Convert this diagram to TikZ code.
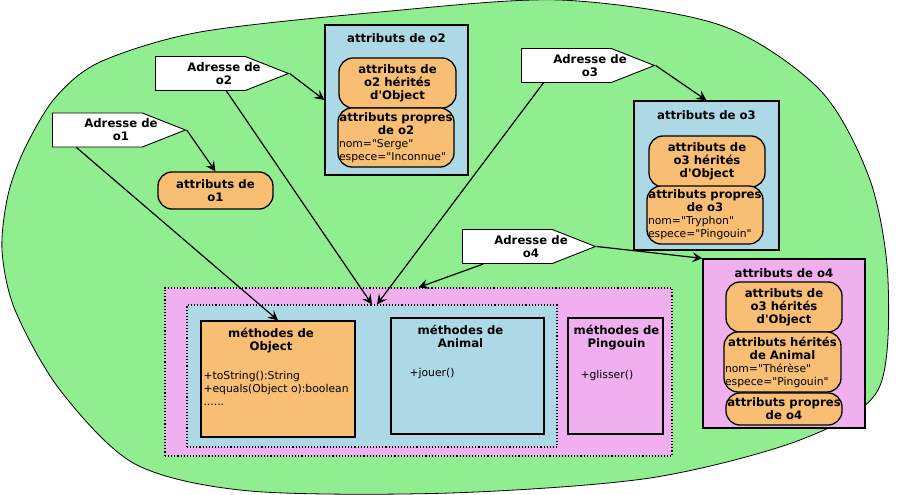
\documentclass[tikz,border=0pt]{standalone}
\usepackage{fontspec}
\setmainfont{DejaVu Sans}[Ligatures=TeXOff]
\usetikzlibrary{positioning,shapes.symbols,arrows.meta}

\definecolor{vertfond}{RGB}{144,238,144}
\definecolor{bleuclair}{RGB}{173,216,230}
\definecolor{rosefond}{RGB}{240,176,240}
\definecolor{orangeattr}{RGB}{247,190,116}

\newcommand\grasfont{\fontsize{11.7}{13}\selectfont\bfseries}

\tikzset{
  adresse/.style={signal, signal to=east, signal pointer angle=43, draw, fill=white, line width=0.9pt,
    minimum height=34pt, minimum width=133pt, inner sep=1pt, anchor=west},
  attrbloc/.style={draw, fill=orangeattr, rounded corners=14pt, line width=1.3pt, font=\grasfont,
    align=center, inner sep=1pt},
  objet/.style={draw, line width=1.3pt, inner sep=0pt},
  zone/.style={draw, dotted, line width=1.1pt, inner sep=0pt},
  titre/.style={font=\grasfont, align=center, inner sep=0pt},
  methode/.style={align=left, inner sep=0pt},
  lien/.style={line width=1.2pt}
}

\begin{document}
\begin{tikzpicture}[x=1pt, y=-1pt, font=\fontsize{10.8}{13}\selectfont,
  >={Stealth[length=10pt, width=10pt, inset=4pt]}]
\useasboundingbox (0,0) rectangle (900,495);

% le tas
\draw[fill=vertfond, line width=0.8pt] plot[smooth cycle, tension=0.5] coordinates {
  (2,250) (8,195) (25,148) (55,98) (100,62) (200,32) (380,12) (560,0) (720,25) (820,90) (870,180)
  (888,280) (878,390) (800,440) (650,478) (450,493) (250,491) (135,464) (60,390) (15,310)};

% methodes
\node[zone, fill=rosefond, minimum width=507pt, minimum height=168pt] at (418.5,372) (tas) {};
\node[zone, fill=bleuclair, minimum width=370pt, minimum height=142pt] at (372,376) (zoneanimal) {};
\node[objet, fill=orangeattr, minimum width=154pt, minimum height=116pt] at (278,379) (methObject) {};
\node[objet, fill=bleuclair, minimum width=153pt, minimum height=116pt] at (467.5,376) (methAnimal) {};
\node[objet, fill=rosefond, minimum width=95pt, minimum height=116pt] at (615.5,376) (methPingouin) {};
\node[titre, below=8pt of methObject.north, xshift=-7pt] (titreObject) {méthodes de\\Object};
\node[titre, below=8pt of methAnimal.north, xshift=-7pt] (titreAnimal) {méthodes de\\Animal};
\node[titre, below=8pt of methPingouin.north, xshift=1pt] (titrePingouin) {méthodes de\\Pingouin};
\node[methode, below right=51pt and 3pt of methObject.north west] (listeObject)
  {+toString():String\\+equals(Object o):boolean\\......};
\node[methode, below right=51pt and 19pt of methAnimal.north west] (listeAnimal) {+jouer()};
\node[methode, below right=53pt and 13pt of methPingouin.north west] (listePingouin) {+glisser()};

% o1
\node[attrbloc, minimum width=115pt, minimum height=37pt] at (215.5,190.5) (attr1) {attributs de\\o1};

% o2
\node[objet, fill=bleuclair, minimum width=143pt, minimum height=150pt] at (396.5,100) (obj2) {};
\node[titre, below=9pt of obj2.north] (titre2) {attributs de o2};
\node[attrbloc, minimum width=117pt, minimum height=50pt] at (397.5,83) (herite2)
  {attributs de\\o2 hérités\\d'Object};
\node[attrbloc, text width=114pt, minimum height=59pt] at (396,137.5) (propre2)
  {attributs propres\\de o2\\\makebox[114pt][l]{\mdseries\fontsize{10.8}{13}\selectfont nom="Serge"}\\
   \makebox[114pt][l]{\mdseries\fontsize{10.8}{13}\selectfont espece="Inconnue"}};

% o3
\node[objet, fill=bleuclair, minimum width=145pt, minimum height=149pt] at (706.5,175.5) (obj3) {};
\node[titre, below=10pt of obj3.north] (titre3) {attributs de o3};
\node[attrbloc, minimum width=116pt, minimum height=51pt] at (707,161.5) (herite3)
  {attributs de\\o3 hérités\\d'Object};
\node[attrbloc, text width=114pt, minimum height=58pt] at (705,215) (propre3)
  {attributs propres\\de o3\\\makebox[114pt][l]{\mdseries\fontsize{10.8}{13}\selectfont nom="Tryphon"}\\
   \makebox[114pt][l]{\mdseries\fontsize{10.8}{13}\selectfont espece="Pingouin"}};

% o4
\node[objet, fill=rosefond, minimum width=162pt, minimum height=169pt] at (784,343.5) (obj4) {};
\node[titre, below=10pt of obj4.north] (titre4) {attributs de o4};
\node[attrbloc, minimum width=116pt, minimum height=50pt] at (784,307) (herite4)
  {attributs de\\o3 hérités\\d'Object};
\node[attrbloc, text width=115pt, minimum height=60pt] at (782.5,362) (animal4)
  {attributs hérités\\de Animal\\\makebox[115pt][l]{\mdseries\fontsize{10.8}{13}\selectfont nom="Thérèse"}\\
   \makebox[115pt][l]{\mdseries\fontsize{10.8}{13}\selectfont espece="Pingouin"}};
\node[attrbloc, minimum width=116pt, minimum height=32pt] at (784,409) (propre4)
  {attributs propres\\de o4};

% adresses
\node[adresse] at (52,130) (adr1) {};
\node[adresse] at (155,73.5) (adr2) {};
\node[adresse] at (521,65.5) (adr3) {};
\node[adresse] at (462,246.5) (adr4) {};
\node[titre] at ([xshift=69pt]adr1.west) (adr1txt) {Adresse de\\o1};
\node[titre] at ([xshift=69pt]adr2.west) (adr2txt) {Adresse de\\o2};
\node[titre] at ([xshift=69pt]adr3.west) (adr3txt) {Adresse de\\o3};
\node[titre] at ([xshift=69pt]adr4.west) (adr4txt) {Adresse de\\o4};

\draw[lien,->] (adr1.east) -- (attr1.north);
\draw[lien,->] ([xshift=-21pt]adr1.south) -- (methObject.north);
\draw[lien,->] (adr2.east) -- (obj2.west);
\draw[lien,->] ([xshift=26pt]adr2.south) -- (zoneanimal.north);
\draw[lien,->] (adr3.east) -- (obj3.north);
\draw[lien,->] ([xshift=-23pt]adr3.south) -- ([xshift=5pt]zoneanimal.north);
\draw[lien,->] (adr4.east) -- (obj4.north west);
\draw[lien,->] ([xshift=-24pt]adr4.south) -- (tas.north);
\end{tikzpicture}
\end{document}
